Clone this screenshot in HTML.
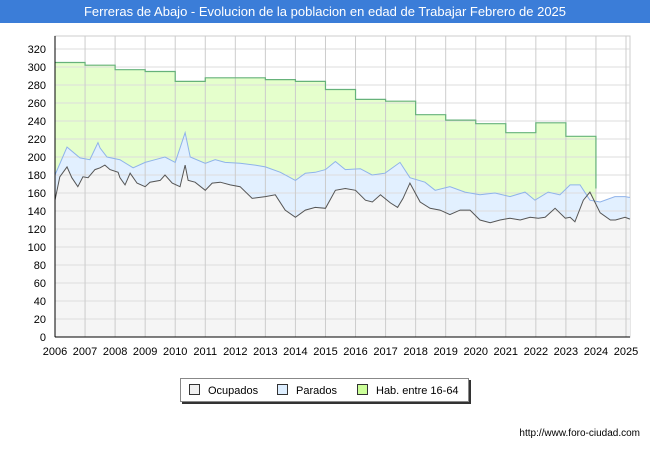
<!DOCTYPE html>
<html><head><meta charset="utf-8"><style>
body{margin:0;width:650px;height:450px;background:#fff;font-family:"Liberation Sans",sans-serif;overflow:hidden}
#title{position:absolute;left:0;top:0;width:650px;height:23px;background:#3b7dd8;color:#fff;font-size:13px;line-height:23px;text-align:center}
#legend{position:absolute;left:180px;top:378px;width:287px;height:22px;border:1px solid #888;box-shadow:2px 2px 0 #333;background:#fff;font-size:11px}
.li{position:absolute;top:5px}
.sw{display:inline-block;width:9px;height:9px;border:1px solid #333;margin-right:8px;vertical-align:-1px}
#url{position:absolute;right:10px;top:428px;font-size:10px}
</style></head><body>
<div id="title">Ferreras de Abajo - Evolucion de la poblacion en edad de Trabajar Febrero de 2025</div>
<svg id="chart" width="650" height="450" style="position:absolute;left:0;top:0"></svg>
<div id="legend">
<span class="li" style="left:8px"><span class="sw" style="background:#f0f0f0"></span>Ocupados</span>
<span class="li" style="left:96px"><span class="sw" style="background:#ddeeff"></span>Parados</span>
<span class="li" style="left:176px"><span class="sw" style="background:#ccff99"></span>Hab. entre 16-64</span>
</div>
<div id="url">http://www.foro-ciudad.com</div>
<script>
const yearTicks=[2006,2007,2008,2009,2010,2011,2012,2013,2014,2015,2016,2017,2018,2019,2020,2021,2022,2023,2024,2025];
const valueTicks=[0,20,40,60,80,100,120,140,160,180,200,220,240,260,280,300,320];
const habYears=[2006,2007,2008,2009,2010,2011,2012,2013,2014,2015,2016,2017,2018,2019,2020,2021,2022,2023];
const habValues=[305,302,297,295,284,288,288,286,284,275,264,262,247,241,237,227,238,223];
const activeDates=[2006.0,2006.4,2006.83,2007.16,2007.43,2007.5,2007.73,2008.16,2008.6,2009.0,2009.33,2009.66,2010.0,2010.33,2010.5,2011.0,2011.33,2011.66,2012.16,2012.66,2013.0,2013.5,2014.0,2014.33,2014.66,2015.0,2015.33,2015.66,2016.16,2016.55,2016.98,2017.48,2017.81,2018.31,2018.65,2019.14,2019.64,2020.14,2020.64,2021.14,2021.64,2021.97,2022.41,2022.8,2023.14,2023.47,2023.8,2024.14,2024.63,2024.97,2025.13];
const activeValues=[180,211,199,197,216,210,200,197,188,194,197,200,194,227,200,193,197,194,193,191,189,183,174,182,183,186,195,186,187,180,182,194,177,172,163,167,161,158,160,156,161,152,161,158,169,169,152,150,156,156,155];
const occDates=[2006.0,2006.16,2006.4,2006.56,2006.76,2006.93,2007.1,2007.33,2007.5,2007.66,2007.83,2008.1,2008.16,2008.33,2008.5,2008.73,2009.0,2009.16,2009.5,2009.66,2009.9,2010.16,2010.33,2010.43,2010.66,2011.0,2011.23,2011.5,2011.83,2012.16,2012.56,2013.0,2013.33,2013.66,2014.0,2014.33,2014.66,2015.0,2015.33,2015.66,2016.0,2016.33,2016.56,2016.83,2017.16,2017.4,2017.58,2017.81,2018.15,2018.48,2018.81,2019.14,2019.48,2019.81,2020.14,2020.48,2020.81,2021.14,2021.48,2021.81,2022.08,2022.31,2022.64,2022.98,2023.14,2023.3,2023.58,2023.8,2024.14,2024.48,2024.65,2024.97,2025.13];
const occValues=[152,178,189,177,167,178,177,186,188,191,186,183,177,169,182,171,167,172,174,180,171,167,191,174,172,163,171,172,169,167,154,156,158,141,133,141,144,143,163,165,163,152,150,158,149,144,154,171,150,143,141,136,141,141,130,127,130,132,130,133,132,133,143,132,133,128,152,161,138,130,130,133,131];
const svg=document.getElementById('chart');
const NS='http://www.w3.org/2000/svg';
const x0=55,x1=626,yb=337,yt=49;
const xs=v=>x0+(v-2006)*(x1-x0)/19;
const ys=v=>yb-v*(yb-yt)/320;
function mk(t,a){const e=document.createElementNS(NS,t);for(const k in a)e.setAttribute(k,a[k]);svg.appendChild(e);return e;}
const bg=mk('rect',{x:x0,y:36,width:575,height:301,fill:'#fff',stroke:'#ccc'});


// hab polygon
let hp=[];habYears.forEach((y,i)=>{hp.push(xs(y)+','+ys(habValues[i]));hp.push(xs(y+1)+','+ys(habValues[i]));});
const hg=mk('polygon',{points:xs(2006)+','+yb+' '+hp.join(' ')+' '+xs(2024)+','+yb,fill:'#e5ffcc'});


const ap=activeDates.map((d,i)=>xs(d)+','+ys(activeValues[i])).join(' ');
const ag=mk('polygon',{points:xs(activeDates[0])+','+yb+' '+ap+' '+xs(activeDates[activeDates.length-1])+','+yb,fill:'#e2f0ff'});


const op=occDates.map((d,i)=>xs(d)+','+ys(occValues[i])).join(' ');
const og=mk('polygon',{points:xs(occDates[0])+','+yb+' '+op+' '+xs(occDates[occDates.length-1])+','+yb,fill:'#f5f5f5'});


valueTicks.forEach(v=>{
 const l=mk('line',{x1:x0,x2:630,y1:ys(v),y2:ys(v),stroke:'#ddd'});
 
 
 const t=mk('text',{x:46,y:ys(v)+4,'text-anchor':'end','font-size':11,fill:'#000'});t.textContent=v;
 
 
});
yearTicks.forEach(y=>{
 const l=mk('line',{x1:xs(y),x2:xs(y),y1:36,y2:yb,stroke:'#ccc'});
 
 
 const t=mk('text',{x:xs(y),y:355,'text-anchor':'middle','font-size':11,fill:'#000'});t.textContent=y;
 
 
});
const hl=mk('polyline',{points:hp.join(' ')+' '+xs(2024)+','+ys(165),fill:'none',stroke:'#66b27a','stroke-width':1.2});


const al=mk('polyline',{points:ap,fill:'none',stroke:'#8fb3ea','stroke-width':1});


const ol=mk('polyline',{points:op,fill:'none',stroke:'#555','stroke-width':1});


const ax=mk('line',{x1:x0,x2:x0,y1:36,y2:yb,stroke:'#000'});


const bx=mk('line',{x1:x0,x2:630,y1:yb,y2:yb,stroke:'#000'});


</script>
</body></html>
